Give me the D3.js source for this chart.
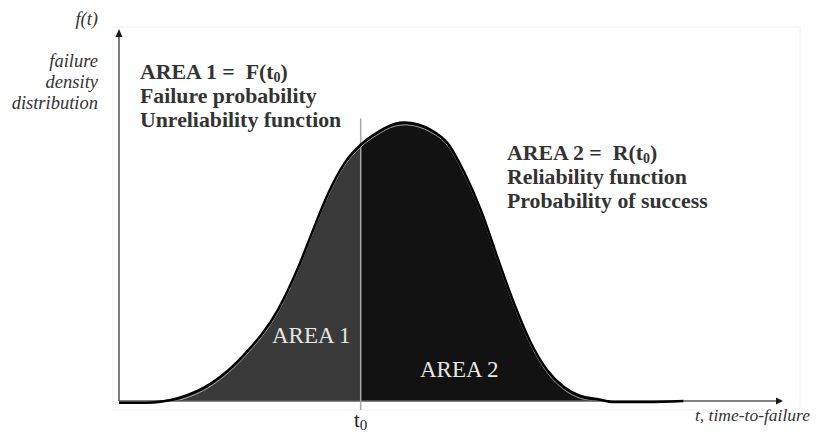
<!DOCTYPE html>
<html>
<head>
<meta charset="utf-8">
<script src="https://cdn.jsdelivr.net/npm/d3@7"></script>
<style>
  body { margin: 0; background: #fff; }
  svg { display: block; font-family: "Liberation Serif", "Times New Roman", serif; }
</style>
</head>
<body>
<svg id="chart" width="820" height="432"></svg>
<script>
// failure density f(t) (peak scaled to 1)
var tValues = [0, 4, 9, 14, 19, 24, 27, 29, 31.5, 34, 36.4, 39, 41.5, 43, 47, 49.5, 52,
  54.5, 57, 59.5, 62, 64.5, 67, 69.5, 72, 74.5, 79.5, 85];
var fValues = [-0.006, -0.006, 0.011, 0.065, 0.17, 0.33, 0.48, 0.6, 0.745, 0.855, 0.92,
  0.966, 0.995, 1.0, 0.973, 0.925, 0.82, 0.685, 0.515, 0.35, 0.21, 0.11, 0.05, 0.018,
  0.007, -0.004, -0.004, 0];
var t0 = 36.4;

var area1Lines = ['AREA 1 =  F(t', 'Failure probability', 'Unreliability function'];
var area2Lines = ['AREA 2 =  R(t', 'Reliability function', 'Probability of success'];
var yLabelLines = ['failure', 'density', 'distribution'];

var points = tValues.map(function(t, i) { return {t: t, f: fValues[i]}; });

var svg = d3.select('#chart');
var x = d3.scaleLinear().domain([0, 100]).range([119, 783]);
var y = d3.scaleLinear().domain([0, 1]).range([401, 122.5]);

// faint frame of the original figure
svg.append('rect')
  .attr('x', 113).attr('y', 27).attr('width', 687).attr('height', 383)
  .attr('fill', 'none').attr('stroke', '#f0f0f0').attr('stroke-width', 1);

var curve = d3.line()
  .x(function(d) { return x(d.t); })
  .y(function(d) { return y(d.f); })
  .curve(d3.curveMonotoneX);

var fill = d3.area()
  .x(function(d) { return x(d.t); })
  .y0(y(0))
  .y1(function(d) { return y(Math.max(d.f, 0)); })
  .curve(d3.curveMonotoneX);

var defs = svg.append('defs');
defs.append('clipPath').attr('id', 'left')
  .append('rect').attr('x', 0).attr('y', 0).attr('width', x(t0)).attr('height', 432);
defs.append('clipPath').attr('id', 'right')
  .append('rect').attr('x', x(t0)).attr('y', 0).attr('width', 820 - x(t0)).attr('height', 432);
defs.append('clipPath').attr('id', 'under')
  .append('path').attr('d', fill(points));

svg.append('path').datum(points)
  .attr('d', fill).attr('fill', '#3a3a3a').attr('clip-path', 'url(#left)');
svg.append('path').datum(points)
  .attr('d', fill).attr('fill', '#121212').attr('clip-path', 'url(#right)');

// thin light edge just inside the curve
svg.append('g').attr('clip-path', 'url(#under)')
  .append('path').datum(points)
  .attr('d', curve)
  .attr('transform', 'translate(0,2.4)')
  .attr('fill', 'none').attr('stroke', '#c8c8c8').attr('stroke-width', 0.8);

// axes
var axisColor = '#5a5a5a';
svg.append('line')
  .attr('x1', x(0)).attr('x2', x(0))
  .attr('y1', y(0)).attr('y2', 36)
  .attr('stroke', axisColor).attr('stroke-width', 1.6);
svg.append('line')
  .attr('x1', x(0)).attr('x2', 778)
  .attr('y1', y(0)).attr('y2', y(0))
  .attr('stroke', axisColor).attr('stroke-width', 1.6);
svg.append('path')
  .attr('d', 'M' + x(0) + ',29 L' + (x(0) - 3.5) + ',37 L' + (x(0) + 3.5) + ',37 Z')
  .attr('fill', '#1a1a1a');
svg.append('path')
  .attr('d', 'M783,' + y(0) + ' L776,' + (y(0) - 3.5) + ' L776,' + (y(0) + 3.5) + ' Z')
  .attr('fill', '#1a1a1a');

// t0 marker
svg.append('line')
  .attr('x1', x(t0)).attr('x2', x(t0))
  .attr('y1', y(1.015)).attr('y2', y(0) + 9)
  .attr('stroke', '#a8a8a8').attr('stroke-width', 1.5);

// the density curve
svg.append('path').datum(points)
  .attr('d', curve)
  .attr('fill', 'none').attr('stroke', '#000').attr('stroke-width', 2.5);

// labels on the axes
svg.append('text')
  .attr('x', 98).attr('y', 25).attr('text-anchor', 'end')
  .attr('font-style', 'italic').attr('font-size', 18.5).attr('fill', '#333')
  .text('f(t)');
svg.selectAll('.ylab').data(yLabelLines).enter().append('text')
  .attr('class', 'ylab')
  .attr('x', 98).attr('y', function(d, i) { return 67 + i * 21; })
  .attr('text-anchor', 'end')
  .attr('font-style', 'italic').attr('font-size', 18.5).attr('fill', '#333')
  .text(function(d) { return d; });
svg.append('text')
  .attr('x', 695).attr('y', 421)
  .attr('font-style', 'italic').attr('font-size', 17.5).attr('fill', '#333')
  .text('t, time-to-failure');

var t0Label = svg.append('text')
  .attr('x', x(t0)).attr('y', 427).attr('text-anchor', 'middle')
  .attr('font-size', 21).attr('fill', '#222');
t0Label.append('tspan').text('t');
t0Label.append('tspan').attr('font-size', 15).attr('dy', 3).text('0');

function block(lines, left, top, step) {
  lines.forEach(function(line, i) {
    var txt = svg.append('text')
      .attr('x', left).attr('y', top + i * step)
      .attr('font-weight', 'bold').attr('font-size', 21.8).attr('fill', '#333')
      .attr('xml:space', 'preserve');
    if (i === 0) {
      txt.append('tspan').text(line);
      txt.append('tspan').attr('font-size', 14).attr('dy', 3).text('0');
      txt.append('tspan').attr('dy', -3).text(')');
    } else {
      txt.text(line);
    }
  });
}
block(area1Lines, 140, 79, 24);
block(area2Lines, 507, 160, 24);

svg.append('text')
  .attr('x', 272).attr('y', 343)
  .attr('font-size', 23).attr('fill', '#e6e6e6')
  .text('AREA 1');
svg.append('text')
  .attr('x', 420).attr('y', 377)
  .attr('font-size', 23).attr('fill', '#e6e6e6')
  .text('AREA 2');
</script>
</body>
</html>
